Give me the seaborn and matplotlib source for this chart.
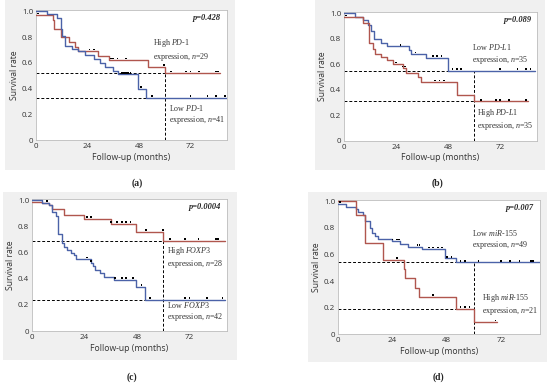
import numpy as np
import pandas as pd
import seaborn as sns
import matplotlib.pyplot as plt
from matplotlib.patches import Rectangle

# ---- data (months, survival) ----
# (a) PD-1
a_hi_t = [0, 7.7, 8.5, 11.6, 15.5, 18, 19.7, 29, 34, 52, 60, 86]
a_hi_s = [0.97, 0.93, 0.86, 0.80, 0.76, 0.72, 0.69, 0.655, 0.62, 0.57, 0.52, 0.52]
a_hi_c = [1, 25, 27, 35, 36, 38, 42, 59.8, 63, 70, 72, 76, 84, 85]
a_lo_t = [0, 5, 9.6, 11.6, 12.2, 13.6, 16.6, 19.7, 23, 27, 30, 32, 36, 38, 47.5, 51.5, 89]
a_lo_s = [1.0, 0.98, 0.95, 0.86, 0.81, 0.73, 0.71, 0.69, 0.66, 0.63, 0.60, 0.57, 0.54, 0.51, 0.40, 0.33, 0.33]
a_lo_c = [40, 41, 42, 43, 44, 49, 54, 72, 80, 84, 88]

# (b) PD-L1
b_lo_t = [0, 4.9, 8.7, 11, 12.5, 13.7, 17, 20, 30, 31, 37.7, 48, 88]
b_lo_s = [1.0, 0.97, 0.95, 0.91, 0.86, 0.80, 0.77, 0.74, 0.71, 0.68, 0.65, 0.55, 0.55]
b_lo_c = [26, 33, 41, 43, 45, 50, 52, 54, 72, 80, 84, 86]
b_hi_t = [0, 8.7, 11.7, 13.3, 14.5, 17, 20, 22.5, 27, 28.5, 34, 35.4, 52, 60, 85]
b_hi_s = [0.97, 0.92, 0.77, 0.72, 0.68, 0.66, 0.63, 0.60, 0.57, 0.53, 0.50, 0.46, 0.36, 0.31, 0.31]
b_hi_c = [1, 24, 27, 28, 42, 44, 46, 63, 70, 72, 76, 84]

# (c) FOXP3
c_hi_t = [0, 4.6, 8, 9.2, 14.6, 24, 36, 47.7, 60, 88]
c_hi_s = [0.99, 0.98, 0.96, 0.93, 0.89, 0.86, 0.82, 0.76, 0.69, 0.69]
c_hi_c = [25, 27, 36, 39, 41, 43, 45, 52, 59.8, 63, 70, 76, 84, 85]
c_lo_t = [0, 4.6, 8, 9.2, 10.8, 11.8, 13.8, 14.6, 16, 17.7, 19.2, 20, 27, 28, 29, 31, 33, 37.7, 47.7, 51.8, 88]
c_lo_s = [1.0, 0.98, 0.96, 0.91, 0.88, 0.74, 0.67, 0.64, 0.62, 0.60, 0.58, 0.55, 0.52, 0.50,
          0.47, 0.44, 0.41, 0.39, 0.34, 0.24, 0.24]
c_lo_c = [7, 25, 27, 38, 41, 43, 46, 50, 54, 70, 72, 80, 87]

# (d) miR-155
d_lo_t = [0, 3.7, 8, 9, 11, 12, 14, 15, 16.3, 17.8, 23.7, 27.4, 31, 37, 47.4, 52, 89]
d_lo_s = [0.98, 0.96, 0.94, 0.92, 0.90, 0.85, 0.80, 0.76, 0.74, 0.72, 0.70, 0.68, 0.66, 0.64, 0.57, 0.54, 0.54]
d_lo_c = [1, 24, 26, 27, 35, 36, 40, 42, 44, 46, 48, 50, 54, 56, 62, 72, 76, 80, 85, 86]
d_hi_t = [0, 8.1, 11.9, 20, 28.9, 29.6, 33.8, 35.8, 52, 60, 70]
d_hi_s = [1.0, 0.90, 0.69, 0.56, 0.49, 0.42, 0.35, 0.28, 0.19, 0.09, 0.09]
d_hi_c = [26, 42, 54, 56, 58, 69.5]

p_values = ['p=0.428', 'p=0.089', 'p=0.0004', 'p=0.007']
panel_labels = ['(a)', '(b)', '(c)', '(d)']
# dashed reference levels (upper, lower) and top of the 60-month line
ref_levels = [(0.52, 0.33, 0.57), (0.55, 0.31, 0.55), (0.69, 0.24, 0.76), (0.54, 0.19, 0.54)]

RED = '#b0564e'
BLUE = '#4b62a8'
SERIF = 'Liberation Serif'

sns.set_style('white')
plt.rcParams['font.family'] = ['Open Sans', 'DejaVu Sans']
plt.rcParams['mathtext.fontset'] = 'custom'
plt.rcParams['mathtext.it'] = 'Liberation Serif:italic'
plt.rcParams['mathtext.rm'] = 'Liberation Serif'

fig = plt.figure(figsize=(5.5, 3.84), dpi=100)

# gray panel backgrounds (figure fraction)
bg_boxes = [(5, 0, 235, 170), (315, 0, 545, 170), (3, 192, 237, 360), (308, 192, 547, 362)]
for x0, y0, x1, y1 in bg_boxes:
    fig.add_artist(Rectangle((x0 / 550, 1 - y1 / 384), (x1 - x0) / 550, (y1 - y0) / 384,
                             transform=fig.transFigure, facecolor='#f0f0f0',
                             edgecolor='none', zorder=-10))

ax_rects = [(0.0655, 0.635, 0.347, 0.339), (0.6255, 0.633, 0.351, 0.336),
            (0.058, 0.138, 0.3545, 0.344), (0.6145, 0.130, 0.367, 0.349)]
curves = [
    [(a_hi_t, a_hi_s, a_hi_c, RED), (a_lo_t, a_lo_s, a_lo_c, BLUE)],
    [(b_lo_t, b_lo_s, b_lo_c, BLUE), (b_hi_t, b_hi_s, b_hi_c, RED)],
    [(c_hi_t, c_hi_s, c_hi_c, RED), (c_lo_t, c_lo_s, c_lo_c, BLUE)],
    [(d_lo_t, d_lo_s, d_lo_c, BLUE), (d_hi_t, d_hi_s, d_hi_c, RED)],
]
notes = [
    [(54.5, 0.70, r'High $\mathit{PD}$-$\mathit{1}$' + '\n' + r'expression, $\mathit{n}$=29'),
     (62, 0.20, r'Low $\mathit{PD}$-$\mathit{1}$' + '\n' + r'expression, $\mathit{n}$=41')],
    [(59, 0.68, r'Low $\mathit{PD}$-$\mathit{L1}$' + '\n' + r'expression, $\mathit{n}$=35'),
     (61.3, 0.165, r'High $\mathit{PD}$-$\mathit{L1}$' + '\n' + r'expression, $\mathit{n}$=35')],
    [(61.5, 0.565, r'High $\mathit{FOXP3}$' + '\n' + r'expression, $\mathit{n}$=28'),
     (61.5, 0.15, r'Low $\mathit{FOXP3}$' + '\n' + r'expression, $\mathit{n}$=42')],
    [(59.3, 0.71, r'Low $\mathit{miR}$-$\mathit{155}$' + '\n' + r'expression, $\mathit{n}$=49'),
     (63.7, 0.22, r'High $\mathit{miR}$-$\mathit{155}$' + '\n' + r'expression, $\mathit{n}$=21')],
]
label_pos = [(137, 183), (438, 183), (132, 377), (438, 377)]

for i in range(4):
    ax = fig.add_axes(ax_rects[i])
    ax.set_facecolor('white')
    hi, lo, vtop = ref_levels[i]
    ax.hlines([hi, lo], 0, 60, colors='black', linestyles=(0, (3, 2)), lw=0.7, zorder=1)
    ax.vlines(60, 0, vtop, colors='black', linestyles=(0, (3, 2)), lw=0.7, zorder=1)
    for t, s, c, col in curves[i]:
        df = pd.DataFrame({'t': t, 's': s})
        sns.lineplot(data=df, x='t', y='s', ax=ax, color=col, lw=1.0,
                     drawstyle='steps-post', estimator=None, zorder=3)
        idx = np.searchsorted(np.array(t), np.array(c), side='right') - 1
        cy = np.array(s)[idx] + 0.013
        sns.scatterplot(x=c, y=cy, ax=ax, marker='s', s=1.5, color='black',
                        edgecolor='none', zorder=4)
    for x, y, txt in notes[i]:
        ax.text(x, y, txt, fontsize=5.8, family=SERIF, color='#333333',
                va='center', ha='left', linespacing=1.15)
    ax.text(0.97, 0.94, p_values[i], transform=ax.transAxes, ha='right', va='center',
            fontsize=6, family=SERIF, fontstyle='italic', fontweight='bold')
    ax.set_xlim(0, 89)
    ax.set_ylim(0, 1.01)
    ax.set_xticks([0, 24, 48, 72])
    ax.set_yticks([0, 0.2, 0.4, 0.6, 0.8, 1.0])
    ax.set_yticklabels(['0', '0.2', '0.4', '0.6', '0.8', '1.0'])
    ax.tick_params(length=0, pad=2, labelsize=5.8, colors='#333333')
    ax.set_xlabel('Follow-up (months)', fontsize=6.2, labelpad=2, color='#333333')
    ax.set_ylabel('Survival rate', fontsize=6.2, labelpad=2, color='#333333')
    for sp in ax.spines.values():
        sp.set_color('#bdbdbd')
        sp.set_linewidth(0.6)
    lx, ly = label_pos[i]
    fig.text(lx / 550, 1 - ly / 384, panel_labels[i], ha='center', va='center',
             fontsize=7, family=SERIF, fontweight='bold')

fig.savefig('out.png', dpi=100)
